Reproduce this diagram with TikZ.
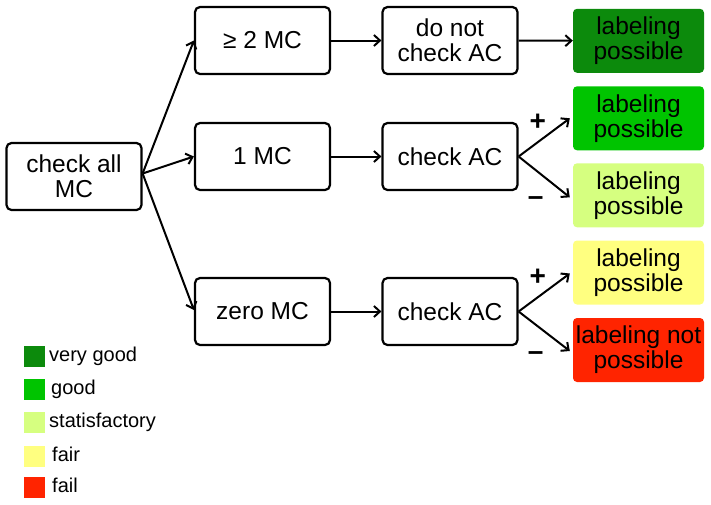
\documentclass[tikz,border=0pt]{standalone}
\usepackage{fontspec}
\setmainfont{Liberation Sans}
\usetikzlibrary{arrows.meta}
\definecolor{cvgood}{RGB}{12,138,12}
\definecolor{cgood}{RGB}{0,196,0}
\definecolor{csat}{RGB}{214,255,128}
\definecolor{cfair}{RGB}{255,255,128}
\definecolor{cfail}{RGB}{255,36,0}
\tikzset{
  stepbox/.style={draw, line width=2.2pt, rounded corners=5pt, minimum width=135pt, minimum height=67pt, inner sep=0pt, align=center, font=\fontsize{24.5}{25}\selectfont},
  resbox/.style={rounded corners=4pt, minimum width=131pt, minimum height=64pt, inner sep=0pt, align=center, font=\fontsize{24.5}{25}\selectfont},
  conn/.style={line width=2pt, -{Straight Barb[length=6pt,width=11pt,line width=2pt]}},
  sign/.style={font=\fontsize{28}{28}\bfseries\selectfont, inner sep=0pt},
  swatch/.style={minimum width=21pt, minimum height=21pt, inner sep=0pt},
  legtext/.style={anchor=base west, inner sep=0pt, font=\fontsize{20}{22}\selectfont}
}
\begin{document}
\begin{tikzpicture}[x=1pt,y=-1pt]
\useasboundingbox (0,0) rectangle (711,504);
% first column
\node[stepbox] (all) at (74,176.5) {check all\\MC};
% second column
\node[stepbox] (two) at (262.5,40.5) {≥ 2 MC};
\node[stepbox] (one) at (262.5,156.5) {1 MC};
\node[stepbox] (zero) at (262.5,311.5) {zero MC};
% third column
\node[stepbox] (nac) at (450,40.5) {do not\\check AC};
\node[stepbox] (ac1) at (450,156.5) {check AC};
\node[stepbox] (ac2) at (450,311.5) {check AC};
% results
\node[resbox, fill=cvgood] (r1) at (638.5,40.8) {labeling\\possible};
\node[resbox, fill=cgood] (r2) at (638.5,118.3) {labeling\\possible};
\node[resbox, fill=csat] (r3) at (638.5,195.3) {labeling\\possible};
\node[resbox, fill=cfair] (r4) at (638.5,272.5) {labeling\\possible};
\node[resbox, fill=cfail] (r5) at (638.5,350) {labeling not\\possible};
% connectors
\draw[conn] ([yshift=3pt]all.east) -- (two.west);
\draw[conn] ([yshift=3pt]all.east) -- (one.west);
\draw[conn] ([yshift=3pt]all.east) -- ([yshift=1.5pt]zero.west);
\draw[conn] (two) -- (nac);
\draw[conn] (one) -- (ac1);
\draw[conn] (zero) -- (ac2);
\draw[conn] (nac) -- (r1);
\draw[conn] (ac1.east) -- ([xshift=-3pt]r2.west);
\draw[conn] (ac1.east) -- ([xshift=-3pt,yshift=-2pt]r3.west);
\draw[conn] (ac2.east) -- ([xshift=-3pt,yshift=-1pt]r4.west);
\draw[conn] (ac2.east) -- ([xshift=-3pt,yshift=-1pt]r5.west);
% signs
\node[sign] (p1) at (537.7,122.7) {+};
\node[sign] (m1) at (535.7,201) {–};
\node[sign] (p2) at (537.7,277.3) {+};
\node[sign] (m2) at (535.7,355.7) {–};
% legend
\node[swatch, fill=cvgood] (l1) at (34.5,356.5) {};
\node[swatch, fill=cgood] (l2) at (34.5,389) {};
\node[swatch, fill=csat] (l3) at (34.5,422.5) {};
\node[swatch, fill=cfair] (l4) at (34.5,456) {};
\node[swatch, fill=cfail] (l5) at (34.5,487) {};
\node[legtext] (t1) at (49,361.5) {very good};
\node[legtext] (t2) at (51,394) {good};
\node[legtext] (t3) at (49,427.5) {statisfactory};
\node[legtext] (t4) at (52,461) {fair};
\node[legtext] (t5) at (52,492) {fail};
\end{tikzpicture}
\end{document}
